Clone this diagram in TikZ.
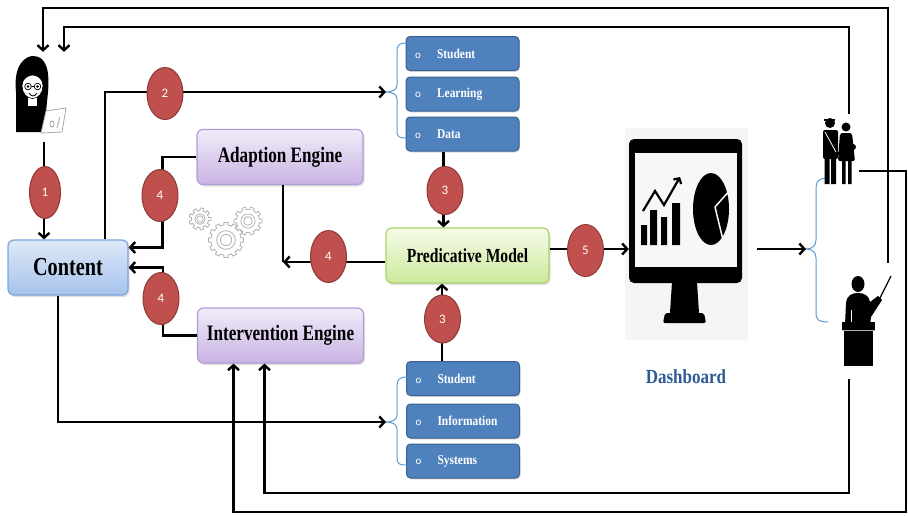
\documentclass[tikz,border=0pt]{standalone}
\usepackage{fontspec}
\setmainfont{Liberation Serif}
\newfontfamily\condfont[FakeStretch=0.78]{Liberation Serif}
\newfontfamily\itemfont[FakeStretch=0.85]{Liberation Serif}
\newfontfamily\numfont{Carlito}
\usetikzlibrary{arrows.meta,shadows,shapes.geometric}

\definecolor{contentTop}{HTML}{DDE8F7}
\definecolor{contentBot}{HTML}{A6C3EC}
\definecolor{contentEdge}{HTML}{7DA3DB}
\definecolor{engTop}{HTML}{F2ECF9}
\definecolor{engBot}{HTML}{C8B3E3}
\definecolor{engEdge}{HTML}{B39CD6}
\definecolor{pmTop}{HTML}{F6FBEA}
\definecolor{pmBot}{HTML}{CDEA9A}
\definecolor{pmEdge}{HTML}{A8D26C}
\definecolor{itemFill}{HTML}{4F81BD}
\definecolor{itemEdge}{HTML}{3A6190}
\definecolor{stepRed}{HTML}{C0504D}
\definecolor{stepEdge}{HTML}{8E3A38}
\definecolor{braceBlue}{HTML}{5B9BD5}
\definecolor{dashBlue}{HTML}{2E5A95}

% gear outline: centre x, centre y, base radius, number of teeth
\newcommand\drawgear[4]{%
  \draw[gearline] plot[domain=0:360,samples=361,variable=\t]
    ({#1+(#3+2.5*(cos(#4*\t)>0.1))*cos(\t)},{#2+(#3+2.5*(cos(#4*\t)>0.1))*sin(\t)}) -- cycle;
  \draw[gearline] (#1,#2) circle [radius={0.62*#3pt}];
  \draw[gearline] (#1,#2) circle [radius={0.38*#3pt}];
}

\begin{document}
\begin{tikzpicture}[x=1pt,y=-1pt,
  conn/.style={line width=2.4pt,black},
  arr/.style={conn,-{Straight Barb[length=5pt,width=11pt]}},
  mainbox/.style={rounded corners=6pt,draw,line width=1.2pt,minimum height=55pt,inner sep=2pt,
    drop shadow={shadow xshift=1.5pt,shadow yshift=-2pt,opacity=0.25}},
  contentbox/.style={mainbox,top color=contentTop,bottom color=contentBot,draw=contentEdge,
    minimum width=120pt,font=\condfont\bfseries\fontsize{26}{28}\selectfont},
  engine/.style={mainbox,top color=engTop,bottom color=engBot,draw=engEdge,
    minimum width=166pt,font=\condfont\bfseries\fontsize{22}{24}\selectfont},
  model/.style={mainbox,top color=pmTop,bottom color=pmBot,draw=pmEdge,
    minimum width=163pt,font=\condfont\bfseries\fontsize{20}{22}\selectfont},
  item/.style={rounded corners=4pt,fill=itemFill,draw=itemEdge,line width=1pt,
    minimum width=113pt,minimum height=34pt,text width=95pt,align=left,inner xsep=9pt,
    text=white,font=\itemfont\bfseries\fontsize{13.5}{15}\selectfont,
    drop shadow={shadow xshift=1pt,shadow yshift=-1.5pt,opacity=0.25}},
  stepnum/.style={ellipse,minimum width=36pt,minimum height=52pt,inner sep=0pt,
    fill=stepRed,draw=stepEdge,line width=1pt,text=white,
    font=\numfont\fontsize{13}{13}\selectfont},
  icon/.style={minimum width=#1,inner sep=0pt},
  gearline/.style={draw=gray!60,line width=0.8pt},
  bracket/.style={draw=braceBlue,line width=1pt}
]
\useasboundingbox (0,0) rectangle (908,515);

% ---------- main boxes ----------
\node[contentbox] (content) at (68,267.5) {Content};
\node[engine] (adapt) at (280,157) {Adaption Engine};
\node[engine] (inter) at (280.5,335.5) {Intervention Engine};
\node[model] (pm) at (467.5,255.5) {Predicative Model};

\newcommand\bullettext[1]{\makebox[22pt][l]{\numfont\mdseries\fontsize{11}{13}\selectfont o}#1}
\node[item] (s1) at (462.5,53.5) {\bullettext{Student}};
\node[item] (s2) at (462.5,94) {\bullettext{Learning}};
\node[item] (s3) at (462.5,134) {\bullettext{Data}};
\node[item] (t1) at (463,378.5) {\bullettext{Student}};
\node[item] (t2) at (463,421) {\bullettext{Information}};
\node[item] (t3) at (463,461) {\bullettext{Systems}};

% ---------- brackets in front of the item groups ----------
\coordinate (brTop) at (386,92);
\coordinate (brBot) at (386,422);
\coordinate (brRight) at (806,249);
\draw[bracket] (406,43) .. controls (399,43) and (397,45) .. (397,52) -- (397,85)
  .. controls (397,90) and (392,92) .. (brTop) .. controls (392,92) and (397,94) .. (397,99)
  -- (397,131) .. controls (397,137) and (399,138) .. (406,138);
\draw[bracket] (407,377) .. controls (399,377) and (397,380) .. (397,386) -- (397,415)
  .. controls (397,420) and (392,422) .. (brBot) .. controls (392,422) and (397,424) .. (397,429)
  -- (397,458) .. controls (397,464) and (399,465) .. (407,465);
\draw[bracket] (828,178) .. controls (819,178) and (816,181) .. (816,188) -- (816,240)
  .. controls (816,246) and (812,249) .. (brRight) .. controls (812,249) and (816,252) .. (816,258)
  -- (816,313) .. controls (816,320) and (819,322) .. (828,322);

% ---------- gears ----------
\drawgear{200}{219}{8.5}{9}
\drawgear{248}{221}{11.5}{10}
\drawgear{226}{240}{15}{12}

% ---------- learner with laptop ----------
\node[icon=50pt,minimum height=90pt] (learner) at (44,97) {};
\fill[black] (16,131) -- (16,92) .. controls (13,64) and (26,56) .. (33,56)
  .. controls (46,56) and (50,70) .. (48,92) -- (46,112) -- (41,131) -- cycle;
\fill[white] (28,97) rectangle (37,107);
\filldraw[fill=white,draw=black,line width=0.6pt] (32.5,86) ellipse [x radius=10.5pt,y radius=12.5pt];
\fill[black] (21.5,84) .. controls (21,66) and (44,64) .. (43.5,84)
  .. controls (39,73) and (27,72) .. (21.5,84) -- cycle;
\draw[line width=0.7pt] (28,86.5) circle [radius=3.3pt] (37.5,86.5) circle [radius=3.3pt] (31.3,86.5) -- (34.2,86.5);
\fill (28,86.5) circle [radius=1.3pt] (37.5,86.5) circle [radius=1.3pt];
\draw[line width=0.8pt] (29,93) .. controls (31.5,97) and (34.5,97) .. (37,93);
\fill[black] (20,106) -- (45,106) -- (49,132) -- (16,132) -- cycle;
\filldraw[fill=white,draw=gray!70,line width=0.8pt] (41,133) -- (46,111) -- (66,108) -- (62,132) -- cycle;
\draw[gray!70,line width=0.8pt] (52,124) ellipse [x radius=2pt,y radius=3pt] (57,128) -- (60,117);

% ---------- dashboard monitor ----------
\node[icon=113pt,minimum height=144pt] (dash) at (685.5,249) {};
\fill[gray!8] (625,128) rectangle (748,340);
\fill[black,rounded corners=5pt] (629,139) rectangle (742,283);
\fill[gray!6] (635,153) rectangle (737,267);
\fill[black] (672,282) -- (697,282) -- (699,313) -- (670,313) -- cycle;
\fill[black,rounded corners=2pt] (663,323) -- (665,313) -- (704,313) -- (706,323) -- cycle;
\fill[black] (641,225) rectangle (647,245) (650,210) rectangle (657,245)
  (661,217) rectangle (667,245) (672,203) rectangle (680,245);
\draw[black,line width=2.2pt,line join=miter,-{Straight Barb[length=4pt,width=9pt]}]
  (643,211) -- (655,191) -- (664,205) -- (680,177);
\fill[black] (711,209) ellipse [x radius=18pt,y radius=36pt];
\draw[gray!6,line width=1.5pt] (715,207) -- (731,189) (715,207) -- (724,244);
\node[font=\itemfont\bfseries\fontsize{20}{22}\selectfont,text=dashBlue] (dashlabel) at (686,377) {Dashboard};

% ---------- students ----------
\node[icon=38pt,minimum height=70pt] (stud) at (838,149) {};
\fill[black] (830,123) circle [radius=5pt];
\fill[black] (824,118.5) rectangle (835,121);
\fill[black,rounded corners=2pt] (823,130) rectangle (838,159);
\fill[black] (824.5,157) rectangle (829.5,184) (831,157) rectangle (836,184);
\draw[white,line width=0.8pt] (825,132) -- (836,152);
\fill[black] (846,127) circle [radius=4.5pt];
\fill[black,rounded corners=2pt] (840,133) -- (852,133) -- (855,161) -- (838,161) -- cycle;
\fill[black] (842,160) rectangle (845.5,184) (848,160) rectangle (851.5,184);
\fill[black] (853,147) circle [radius=3pt];
\fill[black] (836,152) rectangle (842,155);

% ---------- teacher at the lectern ----------
\node[icon=50pt,minimum height=92pt] (teach) at (866,320) {};
\fill[black] (858,284) ellipse [x radius=6.5pt,y radius=8pt];
\fill[black] (845,325) -- (846,303) .. controls (847,295) and (852,293) .. (858,293)
  .. controls (865,293) and (869,296) .. (870,302) -- (878,296) -- (882,300) -- (871,317) -- (870,325) -- cycle;
\draw[white,line width=0.7pt] (851,310) -- (851,325);
\draw[black,line width=1.3pt] (879,300) -- (891,276);
\fill[black] (842,322) rectangle (875,330);
\fill[black] (844,331) rectangle (873,366);
\draw[gray!60,line width=0.6pt] (842,330.5) -- (875,330.5);

% ---------- connectors ----------
% 1: learner to content
\draw[arr] (learner.south) -- (learner.south |- content.north);
% 2: content to student learning data
\coordinate (cN) at ([xshift=37pt]content.north);
\draw[arr] (cN) |- (brTop);
% content to student information systems
\coordinate (cS) at ([xshift=-10pt]content.south);
\draw[arr] (cS) |- (brBot);
% 4: engines back to content
\draw[arr] (adapt.west) -- ++(-34,0) |- ([yshift=20pt]content.east);
\draw[arr] (inter.west) -- ++(-34,0) |- (content.east);
% 4: predictive model to adaption engine
\coordinate (aS) at ([xshift=3pt]adapt.south);
\coordinate (pW) at ([yshift=-6.5pt]pm.west);
\draw[conn] (aS) -- (aS |- pW);
\draw[arr] (pW) -- (aS |- pW);
% 3: data into the predictive model
\coordinate (d3) at ([xshift=-19pt]s3.south);
\draw[arr] (d3) -- (d3 |- pm.north);
\coordinate (t1n) at ([xshift=-21pt]t1.north);
\draw[arr] (t1n) -- (t1n |- pm.south);
% 5: predictive model to dashboard
\draw[arr] (pm.east |- dash.west) -- (dash.west);
\draw[arr] ([xshift=15pt]dash.east) -- (brRight);
% feedback from students and teacher to the learner
\coordinate (sN) at ([xshift=11pt]stud.north);
\draw[arr] (sN) -- ++(0,-87) -| ([xshift=20pt]learner.north);
\coordinate (tN) at ([xshift=22pt,yshift=11pt]teach.north);
\draw[arr] (tN) -- ++(0,-255) -| ([xshift=-1pt]learner.north);
% feedback from students and teacher to the intervention engine
\coordinate (sE) at ([xshift=2pt,yshift=-22pt]stud.east);
\draw[arr] (sE) -- ++(47,0) -- ++(0,341) -| ([xshift=-47pt]inter.south);
\coordinate (tS) at ([xshift=-17pt,yshift=-13pt]teach.south);
\draw[arr] (tS) -- ++(0,114) -| ([xshift=-16pt]inter.south);

% ---------- numbered steps ----------
\node[stepnum,minimum width=31pt] (n1) at (45,192.5) {1};
\node[stepnum] (n2) at (165,93.5) {2};
\node[stepnum] (n4a) at (160,195.5) {4};
\node[stepnum] (n4b) at (161,298.5) {4};
\node[stepnum] (n4c) at (328.5,256.5) {4};
\node[stepnum,minimum height=48pt] (n3a) at (445,190.5) {3};
\node[stepnum,minimum height=48pt] (n3b) at (442.5,319) {3};
\node[stepnum] (n5) at (585.5,250.5) {5};
\end{tikzpicture}
\end{document}
